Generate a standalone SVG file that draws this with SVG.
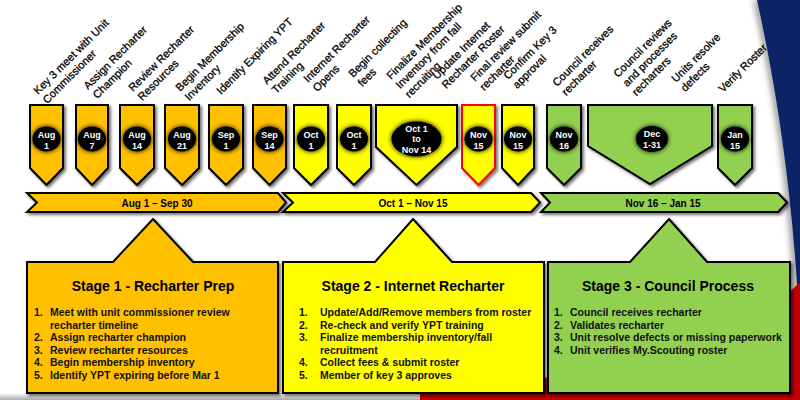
<svg xmlns="http://www.w3.org/2000/svg" width="800" height="400" viewBox="0 0 800 400">
<defs>
<style>
.pent{stroke:#000;stroke-width:2;stroke-linejoin:miter;filter:url(#sh)}
.or{fill:#FFC000}.ye{fill:#FFFF00}.gr{fill:#92D050}
.dot{fill:#000;filter:url(#glow)}
.dt{font-family:"Liberation Sans",Arial,sans-serif;font-weight:bold;font-size:9px;fill:#fff;text-anchor:middle}
.lb{font-family:"Liberation Sans",Arial,sans-serif;font-size:11px;fill:#000;stroke:#000;stroke-width:0.3}
.bt{font-family:"Liberation Sans",Arial,sans-serif;font-weight:bold;font-size:10px;fill:#000;text-anchor:middle}
.tt{font-family:"Liberation Sans",Arial,sans-serif;font-weight:bold;font-size:14px;fill:#000;text-anchor:middle}
.li{font-family:"Liberation Sans",Arial,sans-serif;font-weight:bold;font-size:10.5px;fill:#111}
</style>
<filter id="sh" x="-20%" y="-20%" width="150%" height="150%">
<feDropShadow dx="2" dy="2" stdDeviation="1.6" flood-color="#000" flood-opacity="0.55"/>
</filter>
<filter id="glow" x="-40%" y="-40%" width="180%" height="180%">
<feGaussianBlur in="SourceAlpha" stdDeviation="2.4"/>
<feMerge><feMergeNode/><feMergeNode in="SourceGraphic"/></feMerge>
</filter>
<filter id="blur" x="-50%" y="-10%" width="200%" height="120%"><feGaussianBlur stdDeviation="3"/></filter>
<linearGradient id="bot" x1="0" y1="0" x2="0" y2="1">
<stop offset="0" stop-color="#fff"/><stop offset="1" stop-color="#aaa"/>
</linearGradient>
</defs>

<g id="background">
<rect x="0" y="0" width="800" height="400" fill="#fff"/>
<path d="M757,0 C778,95 792,195 798,300" fill="none" stroke="#888" stroke-width="6" filter="url(#blur)"/>
<path d="M757,0 C778,95 792,195 798,300 L800,300 L800,0 Z" fill="#0C2466"/>
<path d="M330,400 C480,392 620,372 720,332 C760,314 785,298 800,282 L800,400 Z" fill="#C00000"/>
<rect x="0" y="393" width="420" height="7" fill="url(#bot)"/>
</g>

<g id="labels">
<text class="lb" transform="translate(38,95) rotate(-45)"><tspan x="0" y="0">Key 3 meet with Unit</tspan><tspan x="0" y="13">Commissioner</tspan></text>
<text class="lb" transform="translate(88,90) rotate(-45)"><tspan x="0" y="0">Assign Recharter</tspan><tspan x="0" y="13">Champion</tspan></text>
<text class="lb" transform="translate(133,92) rotate(-45)"><tspan x="0" y="0">Review Recharter</tspan><tspan x="0" y="13">Resources</tspan></text>
<text class="lb" transform="translate(180,92) rotate(-45)"><tspan x="0" y="0">Begin Membership</tspan><tspan x="0" y="13">Inventory</tspan></text>
<text class="lb" transform="translate(221,95) rotate(-45)">Identify Expiring YPT</text>
<text class="lb" transform="translate(267,85) rotate(-45)"><tspan x="0" y="0">Attend Recharter</tspan><tspan x="0" y="13">Training</tspan></text>
<text class="lb" transform="translate(308,83) rotate(-45)"><tspan x="0" y="0">Internet Recharter</tspan><tspan x="0" y="13">Opens</tspan></text>
<text class="lb" transform="translate(353,78) rotate(-45)"><tspan x="0" y="0">Begin collecting</tspan><tspan x="0" y="13">fees</tspan></text>
<text class="lb" transform="translate(391,80) rotate(-45)"><tspan x="0" y="0">Finalize Membership</tspan><tspan x="0" y="13">Inventory from fall</tspan><tspan x="0" y="26">recruiting</tspan></text>
<text class="lb" transform="translate(437,80) rotate(-45)"><tspan x="0" y="0">Update Internet</tspan><tspan x="0" y="13">Recharter Roster</tspan></text>
<text class="lb" transform="translate(475,82) rotate(-45)"><tspan x="0" y="0">Final review submit</tspan><tspan x="0" y="13">recharter</tspan></text>
<text class="lb" transform="translate(508,80) rotate(-45)"><tspan x="0" y="0">Confirm Key 3</tspan><tspan x="0" y="13">approval</tspan></text>
<text class="lb" transform="translate(557,87) rotate(-45)"><tspan x="0" y="0">Council receives</tspan><tspan x="0" y="13">recharter</tspan></text>
<text class="lb" transform="translate(618,78) rotate(-45)"><tspan x="0" y="0">Council reviews</tspan><tspan x="0" y="13">and processes</tspan><tspan x="0" y="26">recharters</tspan></text>
<text class="lb" transform="translate(676,83) rotate(-45)"><tspan x="0" y="0">Units resolve</tspan><tspan x="0" y="13">defects</tspan></text>
<text class="lb" transform="translate(723,93) rotate(-45)">Verify Roster</text>
</g>

<g id="m1"><path class="pent or" d="M30,105 H63 V168 L46.5,185 L30,168 Z"/><ellipse class="dot" cx="46.5" cy="139" rx="14" ry="12.5"/><text class="dt" x="46.5" y="137.5">Aug</text><text class="dt" x="46.5" y="148.5">1</text></g>
<g id="m2"><path class="pent or" d="M76,105 H108 V168 L92,185 L76,168 Z"/><ellipse class="dot" cx="92" cy="139" rx="14" ry="12.5"/><text class="dt" x="92" y="137.5">Aug</text><text class="dt" x="92" y="148.5">7</text></g>
<g id="m3"><path class="pent or" d="M120,105 H154 V168 L137,185 L120,168 Z"/><ellipse class="dot" cx="137" cy="139" rx="14" ry="12.5"/><text class="dt" x="137" y="137.5">Aug</text><text class="dt" x="137" y="148.5">14</text></g>
<g id="m4"><path class="pent or" d="M165,105 H199 V168 L182,185 L165,168 Z"/><ellipse class="dot" cx="182" cy="139" rx="14" ry="12.5"/><text class="dt" x="182" y="137.5">Aug</text><text class="dt" x="182" y="148.5">21</text></g>
<g id="m5"><path class="pent or" d="M209,105 H243 V168 L226,185 L209,168 Z"/><ellipse class="dot" cx="226" cy="139" rx="14" ry="12.5"/><text class="dt" x="226" y="137.5">Sep</text><text class="dt" x="226" y="148.5">1</text></g>
<g id="m6"><path class="pent or" d="M253,105 H286 V168 L269.5,185 L253,168 Z"/><ellipse class="dot" cx="269.5" cy="139" rx="14" ry="12.5"/><text class="dt" x="269.5" y="137.5">Sep</text><text class="dt" x="269.5" y="148.5">14</text></g>
<g id="m7"><path class="pent ye" d="M294,105 H328 V168 L311,185 L294,168 Z"/><ellipse class="dot" cx="311" cy="139" rx="14" ry="12.5"/><text class="dt" x="311" y="137.5">Oct</text><text class="dt" x="311" y="148.5">1</text></g>
<g id="m8"><path class="pent ye" d="M337,105 H371 V168 L354,185 L337,168 Z"/><ellipse class="dot" cx="354" cy="139" rx="14" ry="12.5"/><text class="dt" x="354" y="137.5">Oct</text><text class="dt" x="354" y="148.5">1</text></g>
<g id="m9"><path class="pent ye" d="M376,105 H457 V147 L416.5,185 L376,147 Z"/><ellipse class="dot" cx="416.5" cy="139" rx="25" ry="17.5"/><text class="dt" x="416.5" y="131.5">Oct 1</text><text class="dt" x="416.5" y="142">to</text><text class="dt" x="416.5" y="152.5">Nov 14</text></g>
<g id="m10"><path class="pent ye" d="M462,105 H495 V168 L478.5,185 L462,168 Z" style="stroke:#FF0000"/><ellipse class="dot" cx="478.5" cy="139" rx="14" ry="12.5"/><text class="dt" x="478.5" y="137.5">Nov</text><text class="dt" x="478.5" y="148.5">15</text></g>
<g id="m11"><path class="pent ye" d="M502,105 H534 V168 L518,185 L502,168 Z"/><ellipse class="dot" cx="518" cy="139" rx="14" ry="12.5"/><text class="dt" x="518" y="137.5">Nov</text><text class="dt" x="518" y="148.5">15</text></g>
<g id="m12"><path class="pent gr" d="M547,105 H581 V168 L564,185 L547,168 Z"/><ellipse class="dot" cx="564" cy="139" rx="14" ry="12.5"/><text class="dt" x="564" y="137.5">Nov</text><text class="dt" x="564" y="148.5">16</text></g>
<g id="m13"><path class="pent gr" d="M588,105 H712 V146 L650,184 L588,146 Z"/><ellipse class="dot" cx="652" cy="139" rx="16" ry="13"/><text class="dt" x="652" y="137">Dec</text><text class="dt" x="652" y="147.5">1-31</text></g>
<g id="m14"><path class="pent gr" d="M718,105 H752 V168 L735,185 L718,168 Z"/><ellipse class="dot" cx="735" cy="139" rx="14" ry="12.5"/><text class="dt" x="735" y="137.5">Jan</text><text class="dt" x="735" y="148.5">15</text></g>

<g id="phases">
<g id="phase1"><path class="pent or" d="M27,193 H278 L286,202.5 L278,212 H27 L37,202.5 Z"/><text class="bt" x="157" y="206.5">Aug 1 – Sep 30</text></g>
<g id="phase2"><path class="pent ye" d="M283,193 H531 L540,202.5 L531,212 H283 L293,202.5 Z"/><text class="bt" x="413" y="206.5">Oct 1 – Nov 15</text></g>
<g id="phase3"><path class="pent gr" d="M541,193 H778 L787,202.5 L778,212 H541 L550,202.5 Z"/><text class="bt" x="663" y="206.5">Nov 16 – Jan 15</text></g>
</g>

<g id="stage1">
<path class="pent or" d="M27,262 H113 L153,219 L193,262 H278 V393 H27 Z"/>
<text class="tt" x="153" y="291">Stage 1 - Recharter Prep</text>
<text class="li" x="34" y="316">1.</text><text class="li" x="50" y="316">Meet with unit commissioner review</text>
<text class="li" x="50" y="328.5">recharter timeline</text>
<text class="li" x="34" y="341">2.</text><text class="li" x="50" y="341">Assign recharter champion</text>
<text class="li" x="34" y="353.5">3.</text><text class="li" x="50" y="353.5">Review recharter resources</text>
<text class="li" x="34" y="366">4.</text><text class="li" x="50" y="366">Begin membership inventory</text>
<text class="li" x="34" y="378.5">5.</text><text class="li" x="50" y="378.5">Identify YPT expiring before Mar 1</text>
</g>

<g id="stage2">
<path class="pent ye" d="M283,262 H375 L413,219 L452,262 H544 V393 H283 Z"/>
<text class="tt" x="413" y="291">Stage 2 - Internet Recharter</text>
<text class="li" x="299" y="316">1.</text><text class="li" x="320" y="316">Update/Add/Remove members from roster</text>
<text class="li" x="299" y="328.5">2.</text><text class="li" x="320" y="328.5">Re-check and verify YPT training</text>
<text class="li" x="299" y="341">3.</text><text class="li" x="320" y="341">Finalize membership inventory/fall</text>
<text class="li" x="320" y="353.5">recruitment</text>
<text class="li" x="299" y="366">4.</text><text class="li" x="320" y="366">Collect fees &amp; submit roster</text>
<text class="li" x="299" y="378.5">5.</text><text class="li" x="320" y="378.5">Member of key 3 approves</text>
</g>

<g id="stage3">
<path class="pent gr" d="M548,262 H630 L669,219 L707,262 H790 V393 H548 Z"/>
<text class="tt" x="668" y="291">Stage 3 - Council Process</text>
<text class="li" x="554" y="316">1.</text><text class="li" x="570" y="316">Council receives recharter</text>
<text class="li" x="554" y="328.5">2.</text><text class="li" x="570" y="328.5">Validates recharter</text>
<text class="li" x="554" y="341">3.</text><text class="li" x="570" y="341">Unit resolve defects or missing paperwork</text>
<text class="li" x="554" y="353.5">4.</text><text class="li" x="570" y="353.5">Unit verifies My.Scouting roster</text>
</g>

<g id="connectors"></g>
</svg>
